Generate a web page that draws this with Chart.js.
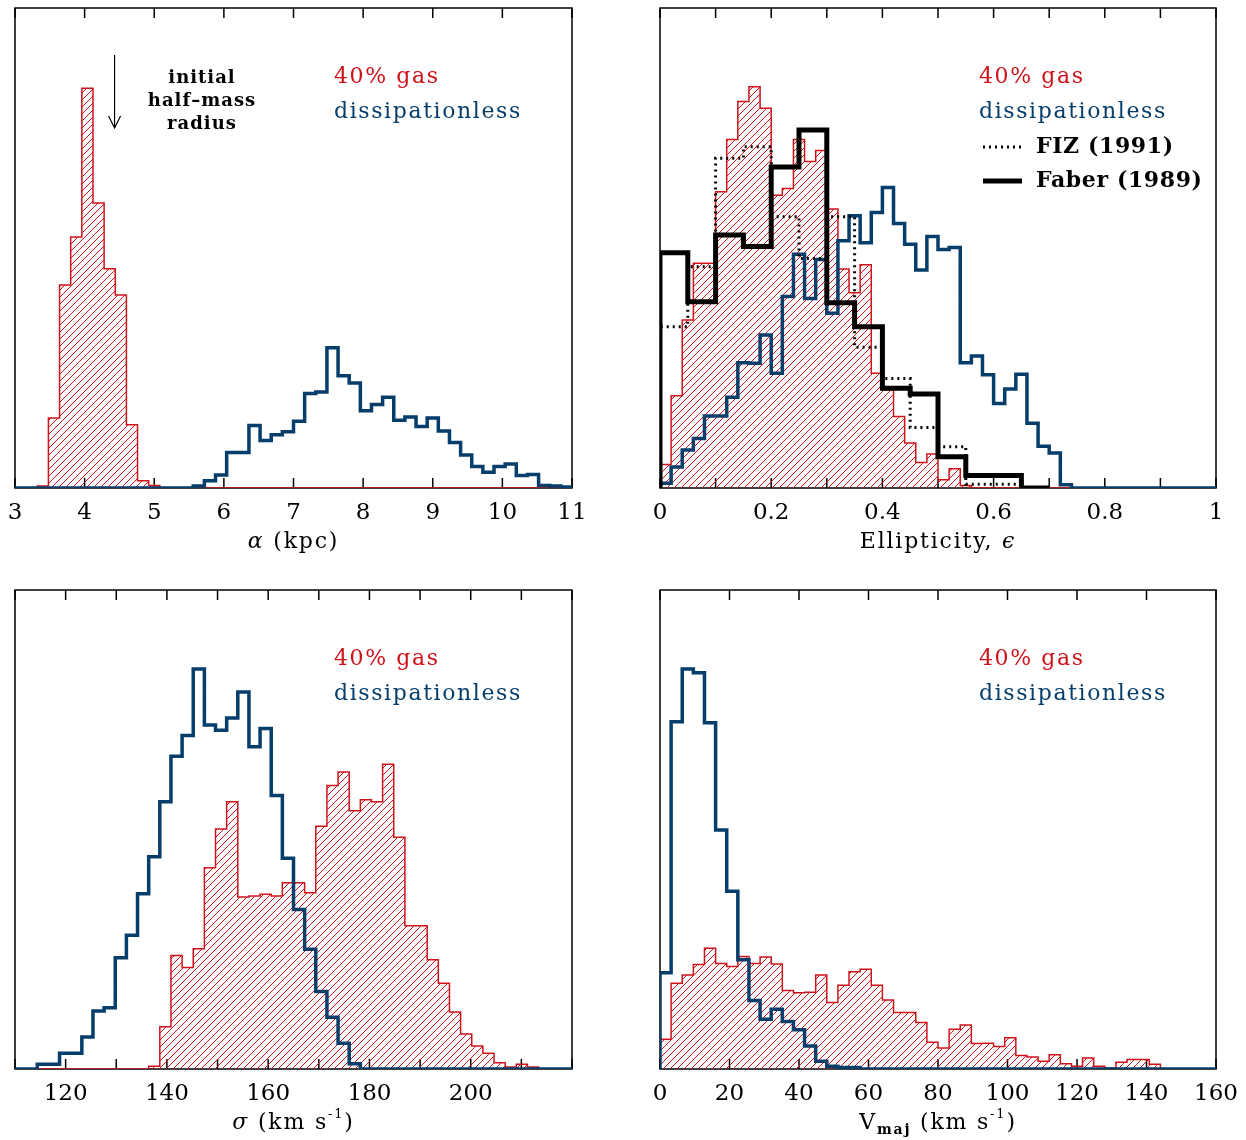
<!DOCTYPE html>
<html>
<head>
<meta charset="utf-8">
<title>Remnant property histograms</title>
<script src="https://cdn.jsdelivr.net/npm/chart.js@4.4.1/dist/chart.umd.min.js"></script>
<style>
  html, body { margin: 0; padding: 0; background: #fff; }
  #wrap { position: relative; width: 1246px; height: 1140px; }
  #wrap canvas { position: absolute; }
</style>
</head>
<body>
<div id="wrap">
  <canvas id="radius-chart" width="623" height="570" style="left:0;top:0"></canvas>
  <canvas id="ellip-chart" width="623" height="570" style="left:623px;top:0"></canvas>
  <canvas id="sigma-chart" width="623" height="570" style="left:0;top:570px"></canvas>
  <canvas id="vmaj-chart" width="623" height="570" style="left:623px;top:570px"></canvas>
</div>
<script>
// Colours
const RED = '#d0121b';
const BLUE = '#053d6b';

// Heights are in % of the frame height (the y axis is not labelled)

// Half-mass radius a (kpc): 50 bins of 0.16 starting at 3
const radiusStart = 3;
const radiusWidth = 0.16;
const radiusGas = [0, 0, 0.4, 14.6, 42.3, 52.3, 83.3, 59.4, 45.7, 40.2,
  13.2, 1.5, 0.5, 0, 0, 0, 0, 0, 0, 0,
  0, 0, 0, 0, 0, 0, 0, 0, 0, 0,
  0, 0, 0, 0, 0, 0, 0, 0, 0, 0,
  0, 0, 0, 0, 0, 0, 0, 0, 0, 0];
const radiusDry = [0, 0, 0, 0, 0, 0, 0, 0, 0, 0,
  0, 0, 0, 0, 0, 0, 0.4, 1.5, 2.7, 7.4,
  7.4, 13.0, 9.9, 11.1, 11.7, 13.9, 19.7, 20.0, 29.2, 23.4,
  21.9, 16.1, 17.4, 18.9, 14.1, 14.8, 12.8, 14.6, 11.9, 9.5,
  6.9, 4.5, 3.3, 4.5, 5.0, 2.6, 2.8, 0.5, 0.4, 0.2];
const initialHalfMass = 4.43;

// Ellipticity: 50 bins of 0.02 from 0; observed samples in 0.05 bins
const ellipStart = 0;
const ellipWidth = 0.02;
const ellipGas = [4.9, 19.2, 35.0, 46.8, 46.8, 61.7, 72.6, 80.5, 83.6, 79.1,
  61.0, 62.4, 72.6, 68.0, 70.3, 58.1, 45.6, 40.7, 46.5, 23.9,
  20.4, 14.9, 9.4, 5.3, 7.1, 1.7, 4.0, 0.5, 0, 0,
  0, 0, 0, 0, 0, 0, 0, 0, 0, 0,
  0, 0, 0, 0, 0, 0, 0, 0, 0, 0];
const ellipDry = [1.0, 4.4, 7.9, 10.3, 15.0, 15.0, 18.9, 26.1, 26.0, 31.9,
  23.9, 39.9, 48.7, 39.5, 47.6, 36.4, 51.5, 56.7, 51.1, 57.4,
  62.6, 55.1, 50.8, 45.4, 52.4, 49.7, 50.1, 26.1, 27.5, 23.6,
  17.6, 20.6, 23.7, 13.5, 8.7, 7.3, 0.7, 0, 0, 0,
  0, 0, 0, 0, 0, 0, 0, 0, 0, 0];
const obsWidth = 0.05;
const ellipFIZ = [33.6, 46.1, 68.7, 71.1, 56.5, 47.8, 56.5, 29.3, 22.8, 12.6, 8.6, 0.8, 0.8];
const ellipFaber = [49.0, 38.8, 52.7, 50.3, 66.9, 74.6, 38.6, 33.6, 20.8, 19.6, 6.5, 2.6, 2.6, 0];

// Velocity dispersion sigma (km/s): 50 bins of 2.2 from 110
const sigmaStart = 110;
const sigmaWidth = 2.2;
const sigmaGas = [0, 0, 0, 0, 0, 0, 0, 0, 0, 0,
  0, 0, 0.6, 8.8, 23.7, 21.2, 25.1, 42.0, 50.1, 55.8,
  35.9, 36.1, 36.5, 36.1, 38.9, 38.9, 36.8, 50.7, 59.2, 62.0,
  53.9, 56.2, 55.8, 63.6, 48.4, 29.9, 29.9, 22.8, 17.9, 11.9,
  7.3, 4.8, 3.3, 1.3, 0.4, 1.0, 0.4, 0, 0, 0];
const sigmaDry = [0, 0, 1.0, 1.0, 3.3, 3.3, 6.7, 12.1, 12.8, 23.2,
  27.9, 36.6, 44.3, 55.8, 65.3, 69.6, 83.5, 71.8, 70.7, 73.3,
  78.7, 67.3, 71.1, 57.1, 44.0, 33.3, 25.0, 16.2, 10.8, 5.4,
  1.1, 0, 0, 0, 0, 0, 0, 0, 0, 0,
  0, 0, 0, 0, 0, 0, 0, 0, 0, 0];

// Major-axis rotation V_maj (km/s): 50 bins of 3.2 from 0
const vmajStart = 0;
const vmajWidth = 3.2;
const vmajGas = [6.2, 17.9, 19.6, 21.8, 25.2, 22.0, 21.4, 23.5, 22.0, 23.4,
  21.9, 16.4, 15.9, 16.0, 19.6, 13.9, 17.5, 20.3, 20.8, 17.5,
  14.4, 11.8, 11.8, 9.7, 5.6, 4.4, 8.3, 9.2, 5.3, 5.4,
  4.7, 6.5, 2.8, 2.5, 1.6, 3.0, 1.1, 0.6, 2.3, 0.6,
  0.2, 1.4, 2.0, 2.0, 1.0, 0, 0, 0, 0, 0];
const vmajDry = [20.1, 72.5, 83.5, 82.7, 72.3, 49.9, 37.1, 22.8, 14.3, 10.4,
  12.5, 9.9, 8.2, 4.8, 1.6, 0.6, 0.3, 0.3, 0, 0,
  0, 0, 0, 0, 0, 0, 0, 0, 0, 0,
  0, 0, 0, 0, 0, 0, 0, 0, 0, 0,
  0, 0, 0, 0, 0, 0, 0, 0, 0, 0];

// Turn bin heights into step points (left edges, closed at both ends)
function histPoints(start, width, values) {
  const pts = [{ x: start, y: 0 }];
  values.forEach((v, i) => pts.push({ x: start + i * width, y: v }));
  const end = start + values.length * width;
  pts.push({ x: end, y: values[values.length - 1] });
  pts.push({ x: end, y: 0 });
  return pts;
}

// Diagonal red hatching for the gas histograms
function makeHatch(color) {
  const tile = document.createElement('canvas');
  tile.width = 7;
  tile.height = 7;
  const g = tile.getContext('2d');
  g.strokeStyle = color;
  g.lineWidth = 1;
  g.beginPath();
  g.moveTo(-1, 8); g.lineTo(8, -1);
  g.moveTo(-1, 1); g.lineTo(1, -1);
  g.moveTo(6, 8); g.lineTo(8, 6);
  g.stroke();
  return g.createPattern(tile, 'repeat');
}
const hatch = makeHatch(RED);

function gasSet(start, width, values) {
  return {
    data: histPoints(start, width, values),
    borderColor: RED, borderWidth: 1.5,
    backgroundColor: hatch, fill: 'origin',
    stepped: 'before', pointRadius: 0, order: 3
  };
}

function drySet(start, width, values) {
  return {
    data: histPoints(start, width, values),
    borderColor: BLUE, borderWidth: 3.5, fill: false,
    stepped: 'before', pointRadius: 0, order: 2
  };
}

// Frame and inward tick marks
const framePlugin = {
  id: 'frame',
  beforeDatasetsDraw(chart) {
    const { ctx, chartArea: a } = chart;
    const xs = chart.scales.x;
    ctx.save();
    ctx.strokeStyle = '#000';
    ctx.lineWidth = 1.5;
    ctx.strokeRect(a.left, a.top, a.right - a.left, a.bottom - a.top);
    ctx.beginPath();
    xs.ticks.forEach(t => {
      const px = xs.getPixelForValue(t.value);
      ctx.moveTo(px, a.bottom); ctx.lineTo(px, a.bottom - 10);
      ctx.moveTo(px, a.top); ctx.lineTo(px, a.top + 10);
    });
    ctx.stroke();
    ctx.restore();
  }
};

const SERIF = '"DejaVu Serif", "Liberation Serif", serif';

function segFont(s) {
  return (s.it ? 'italic ' : '') + (s.bold ? 'bold ' : '') + (s.sz || 22) + 'px ' + SERIF;
}

// Axis title made of pieces (italic symbols, sub/superscripts)
function drawRich(ctx, segs, cx, y) {
  ctx.letterSpacing = '1.8px';
  let total = 0;
  const widths = segs.map(s => {
    ctx.font = segFont(s);
    const w = ctx.measureText(s.t).width;
    total += w;
    return w;
  });
  let x = cx - total / 2;
  ctx.textAlign = 'left';
  ctx.fillStyle = '#000';
  segs.forEach((s, i) => {
    ctx.font = segFont(s);
    ctx.fillText(s.t, x, y + (s.dy || 0));
    x += widths[i];
  });
}

function makeDecor(spec) {
  return {
    id: 'decor',
    afterDraw(chart) {
      const { ctx, chartArea: a } = chart;
      ctx.save();
      ctx.textBaseline = 'middle';
      drawRich(ctx, spec.title, (a.left + a.right) / 2, a.bottom + 54);

      ctx.textAlign = 'left';
      ctx.letterSpacing = '1.6px';
      ctx.font = '22px ' + SERIF;
      ctx.fillStyle = RED;
      ctx.fillText('40% gas', a.left + 319, a.top + 69);
      ctx.fillStyle = BLUE;
      ctx.fillText('dissipationless', a.left + 319, a.top + 104);

      if (spec.extra) spec.extra(chart, ctx, a);
      ctx.restore();
    }
  };
}

function makePanel(id, cfg) {
  return new Chart(document.getElementById(id), {
    type: 'line',
    data: { datasets: cfg.datasets },
    options: {
      responsive: false,
      animation: false,
      events: [],
      layout: { padding: cfg.padding },
      plugins: { legend: { display: false }, tooltip: { enabled: false } },
      scales: {
        x: {
          type: 'linear', min: cfg.min, max: cfg.max,
          grid: { display: false, drawTicks: false },
          border: { display: false },
          ticks: {
            stepSize: cfg.step, autoSkip: false, maxRotation: 0,
            padding: 7, color: '#000',
            font: { family: SERIF, size: 23, lineHeight: 1.6 },
            callback: cfg.label
          }
        },
        y: { display: false, min: 0, max: 100 }
      }
    },
    plugins: [framePlugin, makeDecor(cfg)]
  });
}

// Top left: a (kpc)
makePanel('radius-chart', {
  min: 3, max: 11, step: 1,
  padding: { left: 15, right: 51, top: 8, bottom: 31.2 },
  label: v => String(v),
  title: [{ t: 'α', it: true }, { t: ' (kpc)' }],
  datasets: [
    drySet(radiusStart, radiusWidth, radiusDry),
    gasSet(radiusStart, radiusWidth, radiusGas)
  ],
  extra(chart, ctx, a) {
    const px = chart.scales.x.getPixelForValue(initialHalfMass);
    ctx.strokeStyle = '#000';
    ctx.lineWidth = 1.2;
    ctx.beginPath();
    ctx.moveTo(px, a.top + 47); ctx.lineTo(px, a.top + 120);
    ctx.moveTo(px - 6, a.top + 108); ctx.lineTo(px, a.top + 120); ctx.lineTo(px + 6, a.top + 108);
    ctx.stroke();
    ctx.fillStyle = '#000';
    ctx.textAlign = 'center';
    ctx.letterSpacing = '1px';
    ctx.font = 'bold 18px ' + SERIF;
    const cx = a.left + 187;
    ctx.fillText('initial', cx, a.top + 70);
    ctx.fillText('half\u2013mass', cx, a.top + 93);
    ctx.fillText('radius', cx, a.top + 116);
  }
});

// Top right: ellipticity
makePanel('ellip-chart', {
  min: 0, max: 1, step: 0.1,
  padding: { left: 37, right: 30, top: 8, bottom: 31.2 },
  label: v => (Math.round(v * 10) % 2 === 0 ? String(+v.toFixed(1)) : ''),
  title: [{ t: 'Ellipticity, ' }, { t: 'ϵ', it: true }],
  datasets: [
    {
      data: histPoints(ellipStart, obsWidth, ellipFaber),
      borderColor: '#000', borderWidth: 5, fill: false,
      stepped: 'before', pointRadius: 0, order: 0
    },
    {
      data: histPoints(ellipStart, obsWidth, ellipFIZ),
      borderColor: '#000', borderWidth: 3, borderDash: [2, 4], fill: false,
      stepped: 'before', pointRadius: 0, order: 1
    },
    drySet(ellipStart, ellipWidth, ellipDry),
    gasSet(ellipStart, ellipWidth, ellipGas)
  ],
  extra(chart, ctx, a) {
    const x0 = a.left + 323, x1 = a.left + 362;
    ctx.strokeStyle = '#000';
    ctx.lineWidth = 3;
    ctx.setLineDash([2, 4]);
    ctx.beginPath();
    ctx.moveTo(x0, a.top + 139); ctx.lineTo(x1, a.top + 139);
    ctx.stroke();
    ctx.setLineDash([]);
    ctx.lineWidth = 5;
    ctx.beginPath();
    ctx.moveTo(x0, a.top + 173); ctx.lineTo(x1, a.top + 173);
    ctx.stroke();
    ctx.fillStyle = '#000';
    ctx.letterSpacing = '0.6px';
    ctx.font = 'bold 22px ' + SERIF;
    ctx.fillText('FIZ (1991)', a.left + 376, a.top + 139);
    ctx.fillText('Faber (1989)', a.left + 376, a.top + 173);
  }
});

// Bottom left: sigma
makePanel('sigma-chart', {
  min: 110, max: 220, step: 10,
  padding: { left: 15, right: 51, top: 20, bottom: 20.2 },
  label: v => (v % 20 === 0 && v > 110 && v < 220 ? String(v) : ''),
  title: [{ t: 'σ', it: true }, { t: ' (km s' }, { t: '-1', sz: 13, dy: -8 }, { t: ')' }],
  datasets: [
    drySet(sigmaStart, sigmaWidth, sigmaDry),
    gasSet(sigmaStart, sigmaWidth, sigmaGas)
  ]
});

// Bottom right: V_maj
makePanel('vmaj-chart', {
  min: 0, max: 160, step: 20,
  padding: { left: 37, right: 30, top: 20, bottom: 20.2 },
  label: v => String(v),
  title: [{ t: 'V' }, { t: 'maj', sz: 14, dy: 7, bold: true }, { t: ' (km s' }, { t: '-1', sz: 13, dy: -8 }, { t: ')' }],
  datasets: [
    drySet(vmajStart, vmajWidth, vmajDry),
    gasSet(vmajStart, vmajWidth, vmajGas)
  ]
});
</script>
</body>
</html>
